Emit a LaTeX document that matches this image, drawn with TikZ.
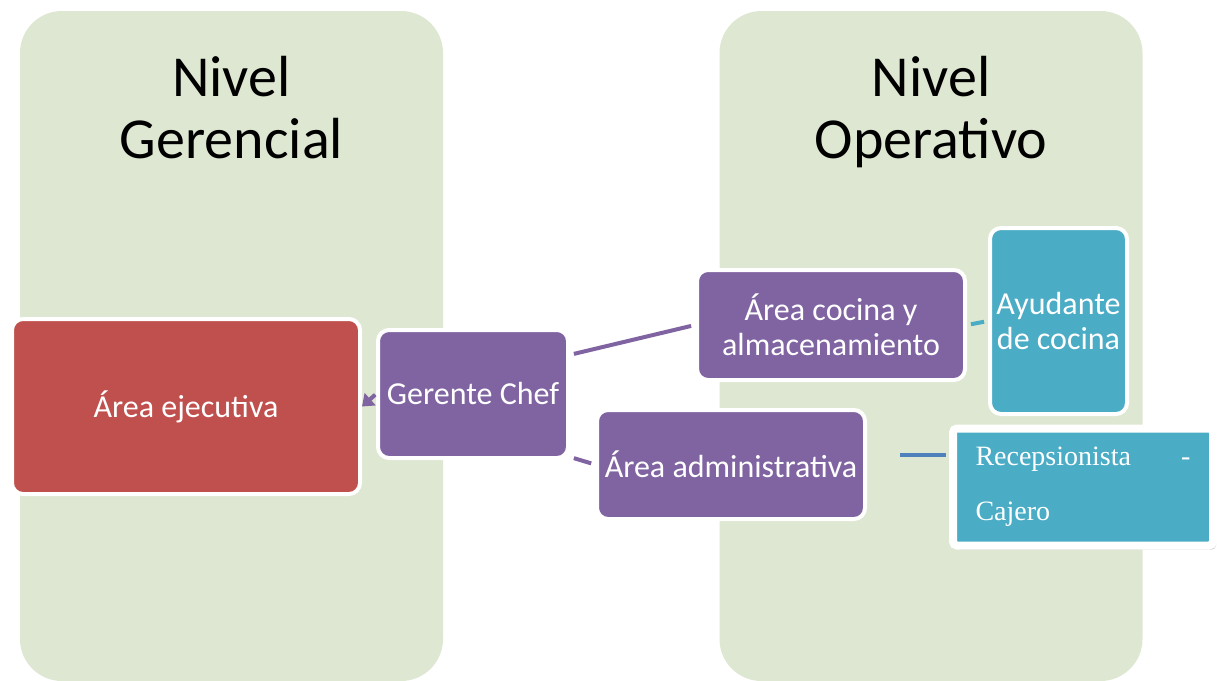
\documentclass[tikz,border=0pt]{standalone}
\usepackage{fontspec}
\setmainfont{Carlito}
\newfontfamily\recfont{Liberation Serif}
\usetikzlibrary{arrows.meta,positioning,shadows}
\definecolor{nivelgreen}{RGB}{222,231,209}
\definecolor{ejered}{RGB}{192,80,77}
\definecolor{chefpurple}{RGB}{128,100,162}
\definecolor{aguateal}{RGB}{75,172,198}
\definecolor{lineblue}{RGB}{79,129,189}

\begin{document}
\begin{tikzpicture}[x=1pt, y=-1pt, >=Latex,
  nivel/.style={fill=nivelgreen, rounded corners=42pt, minimum width=423pt, minimum height=670pt, inner sep=0pt},
  header/.style={font=\fontsize{58}{62}\selectfont, align=center, inner sep=0pt},
  box/.style={draw=white, line width=4pt, rounded corners=11pt, text=white, font=\fontsize{32}{35}\selectfont, align=center, inner sep=0pt},
  conn/.style={line width=4pt, shorten <=4pt, shorten >=4pt}]
\useasboundingbox (0,0) rectangle (1217,680);
\node[nivel] (gerencial) at (231.5,346) {};
\node[nivel] (operativo) at (931,346) {};
\node[header, below=45pt of gerencial.north] (tgerencial) {Nivel\\Gerencial};
\node[header, below=45pt of operativo.north] (toperativo) {Nivel\\Operativo};

\node[box, fill=ejered, minimum width=348pt, minimum height=175pt] (ejecutiva) at (186,406.5) {Área ejecutiva};
\node[box, fill=chefpurple, minimum width=190pt, minimum height=128pt] (gerente) at (473,394) {Gerente Chef};
\node[box, fill=chefpurple, minimum width=268pt, minimum height=110pt] (cocina) at (831,325) {Área cocina y\\almacenamiento};
\node[box, fill=chefpurple, minimum width=268pt, minimum height=109pt] (admin) at (731,464.5) {Área administrativa};
\node[box, fill=aguateal, minimum width=137pt, minimum height=186pt] (ayudante) at (1058.5,321) {Ayudante\\de cocina};
\coordinate (adminout) at ([xshift=33pt, yshift=9.5pt]admin.east);
\node[draw=white, line width=8pt, rounded corners=4pt, fill=aguateal,
  drop shadow={opacity=0.35, shadow xshift=3pt, shadow yshift=-4pt},
  minimum width=260pt, minimum height=117pt, text width=215pt, align=left,
  text=white, font=\recfont\fontsize{28}{55}\selectfont] (recep) at (1083,487) {Recepsionista\hfill-\\Cajero};

\draw[conn, chefpurple, shorten <=1pt, shorten >=0pt, -{Triangle[length=11pt,width=16pt]}] (gerente.west) -- (ejecutiva.east);
\draw[conn, chefpurple] (gerente.22) -- (cocina.west);
\draw[conn, chefpurple] (gerente.-33) -- (admin.west);
\draw[conn, aguateal] (cocina.east) -- (ayudante.west);
\draw[line width=4pt, lineblue, shorten >=3pt] (adminout) -- (adminout -| recep.west);
\end{tikzpicture}
\end{document}
